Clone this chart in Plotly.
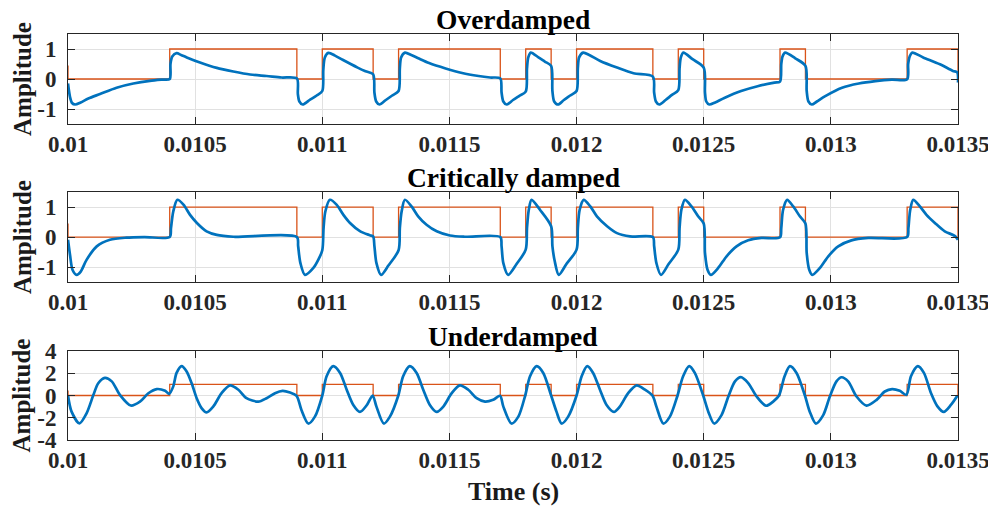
import plotly.graph_objects as go

# ---------------- data (time in microseconds) ----------------
sq_t_us = [10000, 10000, 10400, 10900, 11000, 11200, 11300, 11700, 11800, 11900,
           12000, 12300, 12400, 12500, 12800, 12900, 13300, 13500]
sq_v = [0.45, 0, 1, 0, 1, 0, 1, 0, 1, 0, 1, 0, 1, 0, 1, 0, 1, 0]

over_t_us = [10000, 10008, 10016, 10028, 10050, 10080, 10126, 10191, 10257, 10322, 10370, 10400,
             10403, 10410, 10427, 10445, 10467, 10519, 10585, 10650, 10716, 10781, 10840, 10900,
             10904, 10910, 10923, 10952, 10978, 11000,
             11004, 11010, 11024, 11050, 11080, 11139, 11170, 11200,
             11205, 11212, 11225, 11250, 11275, 11300,
             11305, 11310, 11325, 11350, 11380, 11420, 11485, 11550, 11615, 11660, 11700,
             11705, 11712, 11725, 11750, 11775, 11800,
             11805, 11810, 11820, 11850, 11875, 11900,
             11905, 11912, 11927, 11950, 11975, 12000,
             12005, 12010, 12026, 12050, 12093, 12159, 12224, 12300,
             12305, 12312, 12325, 12350, 12375, 12400,
             12405, 12410, 12420, 12456, 12500,
             12505, 12510, 12522, 12545, 12581, 12647, 12712, 12778, 12800,
             12805, 12810, 12820, 12860, 12900,
             12905, 12912, 12925, 12945, 12978, 13044, 13110, 13175, 13240, 13300,
             13304, 13310, 13320, 13363, 13429, 13480, 13497, 13500]
over_v = [-0.15, -0.6, -0.8, -0.85, -0.78, -0.65, -0.5, -0.29, -0.15, -0.06, -0.02, 0.0,
          0.5, 0.75, 0.86, 0.8, 0.72, 0.55, 0.37, 0.25, 0.15, 0.1, 0.05, 0.02,
          -0.5, -0.75, -0.85, -0.69, -0.55, -0.4,
          0.3, 0.72, 0.87, 0.78, 0.64, 0.38, 0.26, 0.16,
          -0.45, -0.75, -0.85, -0.7, -0.55, -0.4,
          0.35, 0.72, 0.88, 0.8, 0.68, 0.53, 0.35, 0.2, 0.1, 0.05, 0.02,
          -0.45, -0.75, -0.85, -0.7, -0.56, -0.42,
          0.35, 0.72, 0.88, 0.72, 0.58, 0.44,
          -0.4, -0.75, -0.85, -0.7, -0.55, -0.4,
          0.35, 0.72, 0.88, 0.8, 0.6, 0.38, 0.19, 0.08,
          -0.45, -0.75, -0.85, -0.7, -0.53, -0.37,
          0.35, 0.72, 0.88, 0.66, 0.38,
          -0.45, -0.75, -0.85, -0.78, -0.63, -0.4, -0.24, -0.12, -0.09,
          0.5, 0.75, 0.88, 0.69, 0.44,
          -0.4, -0.75, -0.85, -0.75, -0.57, -0.29, -0.15, -0.07, -0.02, -0.01,
          0.5, 0.75, 0.88, 0.72, 0.49, 0.27, 0.22, -0.12]

crit_t_us = [10000, 10008, 10018, 10034, 10050, 10073, 10113, 10165, 10230, 10300, 10400,
             10405, 10414, 10430, 10454, 10480, 10507, 10545, 10585, 10650, 10900,
             10905, 10914, 10932, 10965, 10984, 11000,
             11005, 11012, 11030, 11056, 11083, 11109, 11148, 11187, 11200,
             11205, 11213, 11231, 11260, 11300,
             11305, 11312, 11325, 11351, 11377, 11410, 11450, 11502, 11560, 11700,
             11705, 11712, 11731, 11764, 11800,
             11805, 11812, 11823, 11856, 11900,
             11905, 11914, 11930, 11960, 12000,
             12005, 12012, 12028, 12054, 12080, 12120, 12159, 12210, 12300,
             12305, 12314, 12332, 12362, 12400,
             12405, 12412, 12426, 12452, 12478, 12500,
             12505, 12515, 12528, 12557, 12590, 12629, 12675, 12727, 12800,
             12805, 12812, 12828, 12852, 12878, 12900,
             12905, 12915, 12927, 12957, 12990, 13029, 13081, 13147, 13300,
             13305, 13312, 13324, 13350, 13376, 13409, 13448, 13487, 13500]
crit_v = [-0.09, -0.6, -1.1, -1.26, -1.15, -0.76, -0.31, -0.09, -0.02, 0.0, 0.0,
          0.3, 0.85, 1.24, 1.08, 0.74, 0.47, 0.19, 0.07, 0.01, 0.0,
          -0.3, -0.87, -1.26, -1.03, -0.76, -0.44,
          0.3, 0.85, 1.24, 1.08, 0.74, 0.47, 0.2, 0.06, 0.02,
          -0.3, -0.87, -1.26, -0.95, -0.44,
          0.3, 0.85, 1.24, 1.02, 0.69, 0.41, 0.19, 0.05, 0.01, 0.0,
          -0.3, -0.87, -1.26, -0.9, -0.42,
          0.3, 0.9, 1.24, 0.91, 0.36,
          -0.3, -0.8, -1.26, -0.9, -0.42,
          0.3, 0.9, 1.24, 1.02, 0.69, 0.36, 0.13, 0.02, 0.0,
          -0.3, -0.87, -1.26, -0.9, -0.42,
          0.3, 0.9, 1.24, 1.02, 0.69, 0.45,
          -0.53, -1.09, -1.26, -1.03, -0.64, -0.31, -0.11, -0.03, -0.01,
          0.3, 0.9, 1.24, 1.02, 0.69, 0.45,
          -0.53, -1.09, -1.26, -1.03, -0.64, -0.31, -0.11, -0.03, 0.0,
          0.3, 0.9, 1.24, 1.02, 0.74, 0.47, 0.19, 0.04, -0.09]

under_t_us = [10000, 10014, 10045, 10073, 10100, 10119, 10145, 10172, 10204, 10247, 10283,
              10316, 10349, 10382, 10398,
              10414, 10427, 10447, 10466, 10486, 10506, 10526, 10545, 10571, 10604, 10637,
              10670, 10702, 10748, 10781, 10814, 10844, 10873, 10899,
              10918, 10945, 10971, 11000,
              11017, 11043, 11070, 11096, 11122, 11148, 11174, 11198,
              11213, 11242, 11266, 11299,
              11318, 11344, 11371, 11397, 11423, 11450, 11476, 11509, 11541, 11574, 11607,
              11640, 11672, 11699,
              11712, 11744, 11771, 11798,
              11817, 11843, 11869, 11900,
              11921, 11941, 11967, 12000,
              12020, 12042, 12065, 12092, 12118, 12147, 12170, 12203, 12236, 12269, 12299,
              12314, 12341, 12367, 12397,
              12419, 12443, 12465, 12498,
              12518, 12541, 12570, 12597, 12623, 12646, 12675, 12708, 12745, 12773, 12796,
              12818, 12839, 12865, 12898,
              12917, 12941, 12970, 12996, 13022, 13042, 13068, 13101, 13140, 13180, 13212,
              13241, 13271, 13297,
              13315, 13342, 13366, 13394, 13420, 13444, 13472, 13498]
under_v = [0.0, -1.45, -2.5, -1.6, 0.06, 1.1, 1.58, 1.27, 0.06, -0.9, -0.55,
           0.2, 0.58, 0.42, 0.15,
           0.82, 2.03, 2.64, 2.18, 1.12, -0.24, -1.15, -1.52, -1.0, 0.21, 0.91,
           0.52, -0.24, -0.55, -0.24, 0.21, 0.42, 0.27, -0.03,
           -1.3, -2.52, -1.9, 0.0,
           1.73, 2.64, 2.03, 0.52, -0.85, -1.48, -0.9, 0.0,
           -1.0, -2.52, -1.9, 0.0,
           1.73, 2.64, 2.03, 0.52, -0.85, -1.48, -1.0, 0.21, 0.91, 0.52, -0.24,
           -0.55, -0.39, -0.03,
           -1.0, -2.52, -1.9, 0.0,
           1.73, 2.64, 2.03, 0.0,
           -1.45, -2.52, -1.9, 0.0,
           1.73, 2.64, 2.03, 0.52, -0.85, -1.48, -1.0, 0.21, 0.91, 0.52, -0.03,
           -1.0, -2.52, -1.9, 0.0,
           1.73, 2.64, 2.03, 0.0,
           -1.45, -2.52, -1.76, -0.09, 1.27, 1.65, 1.12, -0.09, -0.92, -0.55, 0.0,
           1.73, 2.64, 2.03, 0.0,
           -1.45, -2.52, -1.76, -0.09, 1.27, 1.64, 1.27, -0.09, -0.91, -0.39, 0.36,
           0.58, 0.42, 0.06,
           1.73, 2.64, 2.03, 0.21, -1.0, -1.48, -0.85, 0.0]

titles = ["Overdamped", "Critically damped", "Underdamped"]
x_ticks = [0.01, 0.0105, 0.011, 0.0115, 0.012, 0.0125, 0.013, 0.0135]
x_tick_text = ["0.01", "0.0105", "0.011", "0.0115", "0.012", "0.0125", "0.013", "0.0135"]
y_ticks_small = [-1, 0, 1]
y_ticks_small_text = ["-1", "0", "1"]
y_ticks_under = [-4, -2, 0, 2, 4]
y_ticks_under_text = ["-4", "-2", "0", "2", "4"]
x_label = "Time (s)"
y_label = "Amplitude"

# ---------------- figure ----------------
FONT = "Liberation Serif, Times New Roman, serif"
BLUE = "#0072BD"
ORANGE = "#D95319"
AX = "#262626"
GRID = "#E1E1E1"

domains = [[0.7783, 1.0], [0.389, 0.6108], [0.0, 0.2192]]
responses = [(over_t_us, over_v), (crit_t_us, crit_v), (under_t_us, under_v)]
yranges = [[-1.5, 1.5], [-1.5, 1.5], [-4, 4]]
yticks = [(y_ticks_small, y_ticks_small_text), (y_ticks_small, y_ticks_small_text),
          (y_ticks_under, y_ticks_under_text)]

fig = go.Figure()
sq_x = [t * 1e-6 for t in sq_t_us]
for i, (tt, vv) in enumerate(responses):
    xa = "x" if i == 0 else f"x{i+1}"
    ya = "y" if i == 0 else f"y{i+1}"
    fig.add_trace(go.Scatter(x=sq_x, y=sq_v, mode="lines",
                             line=dict(color=ORANGE, width=1.3, shape="hv"),
                             xaxis=xa, yaxis=ya, showlegend=False, hoverinfo="skip"))
    fig.add_trace(go.Scatter(x=[t * 1e-6 for t in tt], y=vv, mode="lines",
                             line=dict(color=BLUE, width=2.7, shape="spline", smoothing=0.8),
                             xaxis=xa, yaxis=ya, showlegend=False, hoverinfo="skip"))

# the page body adds an 8 px margin at the top-left
layout = dict(template="none", width=988, height=502, paper_bgcolor="white", plot_bgcolor="white",
              margin=dict(l=60, r=38, t=26, b=70, autoexpand=False),
              font=dict(family=FONT, color="#1a1a1a"))
annotations = []
for i in range(3):
    xk = "xaxis" if i == 0 else f"xaxis{i+1}"
    yk = "yaxis" if i == 0 else f"yaxis{i+1}"
    ya = "y" if i == 0 else f"y{i+1}"
    xa = "x" if i == 0 else f"x{i+1}"
    layout[xk] = dict(domain=[0, 1], anchor=ya, range=[0.01, 0.0135], automargin=False,
                      tickmode="array", tickvals=x_ticks, ticktext=x_tick_text,
                      ticks="inside", ticklen=7, tickwidth=1, tickcolor=AX,
                      showline=True, linecolor=AX, linewidth=1, mirror="allticks",
                      showgrid=True, gridcolor=GRID, gridwidth=1, zeroline=False,
                      tickfont=dict(size=23, family=FONT, color="#262626", weight="bold"),
                      ticklabelstandoff=-1, ticklabeloverflow="allow")
    layout[yk] = dict(domain=domains[i], anchor=xa, range=yranges[i], automargin=False,
                      tickmode="array", tickvals=yticks[i][0], ticktext=yticks[i][1],
                      ticks="inside", ticklen=7, tickwidth=1, tickcolor=AX,
                      showline=True, linecolor=AX, linewidth=1, mirror="allticks",
                      showgrid=True, gridcolor=GRID, gridwidth=1, zeroline=False,
                      tickfont=dict(size=23, family=FONT, color="#262626", weight="bold"),
                      ticklabelstandoff=6)
    annotations.append(dict(text=titles[i], x=0.5, xref="paper", y=domains[i][1], yref="paper",
                            xanchor="center", yanchor="bottom", yshift=-2, showarrow=False,
                            borderpad=0,
                            font=dict(size=27.5, family=FONT, color="black", weight="bold")))
    annotations.append(dict(text=y_label, x=-0.0517, xref="paper",
                            y=(domains[i][0] + domains[i][1]) / 2, yref="paper",
                            xanchor="center", yanchor="middle", textangle=-90, showarrow=False,
                            borderpad=0,
                            font=dict(size=25, family=FONT, color="#1a1a1a", weight="bold")))
annotations.append(dict(text=x_label, x=0.5, xref="paper", y=-0.127, yref="paper",
                        xanchor="center", yanchor="middle", showarrow=False,
                        font=dict(size=26, family=FONT, color="#1a1a1a", weight="bold")))
layout["annotations"] = annotations
fig.update_layout(**layout)
fig.write_html("out.html")
